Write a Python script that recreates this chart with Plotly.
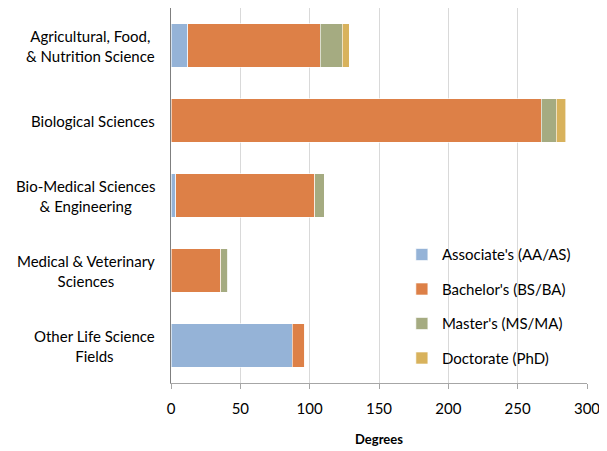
import plotly.graph_objects as go

categories = ["Agricultural, Food,<br>& Nutrition Science", "Biological Sciences",
              "Bio-Medical Sciences<br>& Engineering", "Medical & Veterinary<br>Sciences",
              "Other Life Science<br>Fields"]
associate = [12, 0, 3.5, 0, 87.5]
bachelor = [95.5, 267, 100, 36, 9]
master = [16, 11, 7, 5, 0]
doctorate = [5, 6.5, 0, 0, 0]
series_names = ["Associate's (AA/AS)", "Bachelor's (BS/BA)", "Master's (MS/MA)", "Doctorate (PhD)"]
colors = ["#95B3D7", "#DD8047", "#A5AB81", "#D8B25C"]
xticks = [0, 50, 100, 150, 200, 250, 300]

font_family = "Lato, 'Open Sans', sans-serif"
fig = go.Figure()
for name, vals, col in zip(series_names, [associate, bachelor, master, doctorate], colors):
    fig.add_trace(go.Bar(
        y=categories, x=vals, name=name, orientation="h",
        marker=dict(color=col, line=dict(color="rgba(255,255,255,0.6)", width=1)),
        legendgroup=name, width=0.58,
    ))

for cat in categories:
    fig.add_annotation(text=cat, xref="paper", x=0, xanchor="right", xshift=-14,
                       yref="y", y=cat, yanchor="middle", align="center",
                       showarrow=False, font=dict(size=15, family=font_family, color="#000000"))

# page body has an 8px margin: figure is sized to fill the remaining window
fig.update_layout(
    barmode="stack",
    width=599, height=443,
    margin=dict(l=163, r=20, t=0, b=68),
    paper_bgcolor="white", plot_bgcolor="white",
    font=dict(family=font_family, size=15, color="#000000"),
    showlegend=True,
    legend=dict(x=0.555, y=0.386, xanchor="left", yanchor="top",
                traceorder="grouped", tracegroupgap=12,
                font=dict(size=15, family=font_family),
                itemwidth=30, bgcolor="rgba(0,0,0,0)"),
    xaxis=dict(range=[0, 300], tickvals=xticks, showgrid=True, gridcolor="#D9D9D9",
               gridwidth=1, showline=True, linecolor="#A6A6A6", linewidth=1,
               ticks="outside", ticklen=5, tickcolor="#A6A6A6", ticklabelstandoff=7,
               tickfont=dict(size=15), zeroline=False,
               title=dict(text="<b>Degrees</b>", font=dict(size=13), standoff=18)),
    yaxis=dict(autorange="reversed", showline=True, linecolor="#7F7F7F", linewidth=1,
               ticks="", showticklabels=False),
)
fig.write_html("out.html")
